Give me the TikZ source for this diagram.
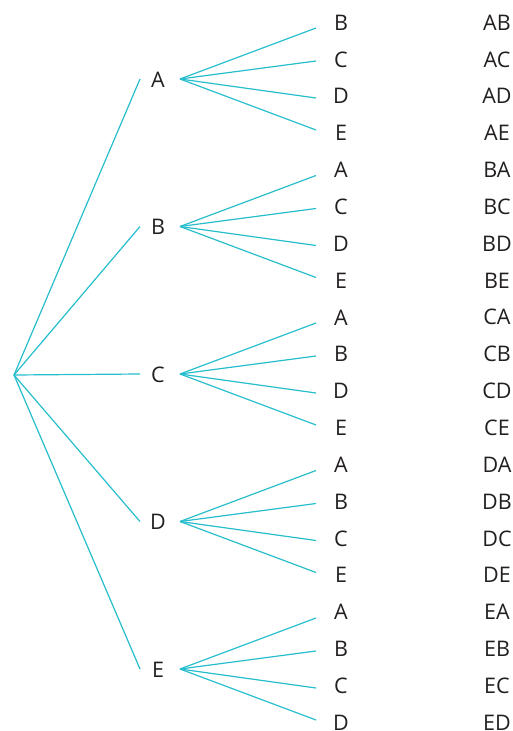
\documentclass[tikz,border=0pt]{standalone}
\usepackage{fontspec}
\setmainfont{Open Sans}
\definecolor{branch}{RGB}{38,189,205}
\definecolor{ink}{RGB}{35,31,32}
\begin{document}
\begin{tikzpicture}[x=1pt,y=-1pt,
  lab/.style={text=ink, font=\fontsize{21.5}{25}\selectfont, inner sep=0pt},
  br/.style={draw=branch, line width=1.2pt}]
\useasboundingbox (0,0) rectangle (513,731);
\coordinate (r) at (14,375);
\foreach \p/\a/\b/\c/\d [count=\i from 0] in {A/B/C/D/E, B/A/C/D/E, C/A/B/D/E, D/A/B/C/E, E/A/B/C/D}{
  \pgfmathsetmacro{\yy}{79+147.5*\i}
  \node[lab] (N\i) at (158,\yy+0.5) {\p};
  \draw[br] (r) -- ([xshift=-18pt, yshift=0.5pt]N\i.center);
  \foreach \q/\off [count=\j from 0] in {\a/-51,\b/-18,\c/19,\d/51}{
    \pgfmathsetmacro{\ly}{22.5+36.85*(4*\i+\j)}
    \pgfmathsetmacro{\dy}{\ly-\yy-\off}
    \node[lab] (L\i\j) at (341,\ly) {\q};
    \node[lab] (P\i\j) at (497,\ly) {\p\q};
    \draw[br] ([xshift=22pt, yshift=0.5pt]N\i.center) -- ([xshift=-25pt, yshift=\dy pt]L\i\j.center);
  }
}
\end{tikzpicture}
\end{document}
